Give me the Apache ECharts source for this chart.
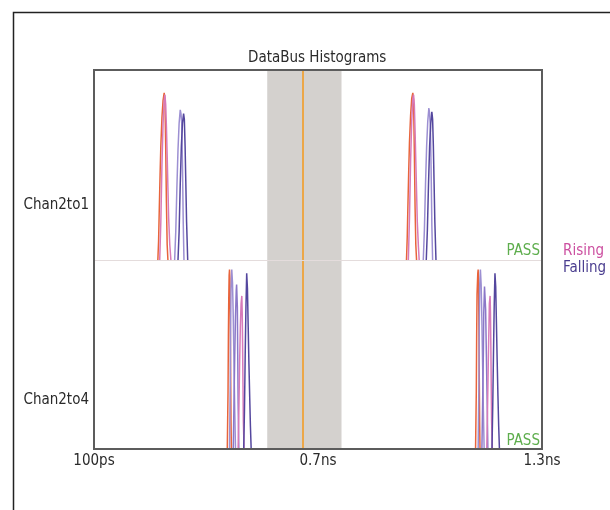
<!DOCTYPE html>
<html>
<head>
<meta charset="utf-8">
<script src="https://cdn.jsdelivr.net/npm/echarts@6/dist/echarts.min.js"></script>
<style>
  html, body { margin: 0; padding: 0; background: #fff; }
  #chart { width: 610px; height: 510px; }
</style>
</head>
<body>
<div id="chart"></div>
<script>
// axis / labels
const xRange = [0.1, 1.3];
const xTicks = [0.1, 0.7, 1.3];
const xTickLabels = ['100ps', '0.7ns', '1.3ns'];
const channels = ['Chan2to1', 'Chan2to4'];
const channelLabelAt = [28.7, 26];
const bandRange = [0.564, 0.763];
const gateLine = 0.664;

// Chan2to1, first group
const top1Orange = [[0.271,0],[0.273,10],[0.275,28],[0.277,45],[0.279,60],[0.282,75],[0.285,84],[0.288,88],[0.290,84],[0.292,60],[0.294,30],[0.296,8],[0.298,0]];
const top1Pink = [[0.276,0],[0.279,20],[0.282,50],[0.285,72],[0.288,84],[0.290,87],[0.292,82],[0.294,70],[0.296,55],[0.298,38],[0.300,22],[0.303,8],[0.306,0]];
const top1Lilac = [[0.316,0],[0.319,15],[0.322,38],[0.325,58],[0.328,72],[0.331,79],[0.333,77],[0.335,72],[0.337,50],[0.339,20],[0.341,0]];
const top1Purple = [[0.325,0],[0.328,15],[0.331,40],[0.334,60],[0.337,72],[0.340,77],[0.342,74],[0.344,60],[0.346,40],[0.348,20],[0.351,0]];
// Chan2to1, second group
const top2Orange = [[0.937,0],[0.939,12],[0.941,30],[0.943,47],[0.945,62],[0.948,76],[0.951,85],[0.954,88],[0.956,84],[0.958,58],[0.960,28],[0.962,8],[0.964,0]];
const top2Pink = [[0.942,0],[0.945,22],[0.948,52],[0.951,73],[0.954,85],[0.956,87],[0.958,82],[0.960,68],[0.962,52],[0.964,36],[0.966,20],[0.969,7],[0.971,0]];
const top2Lilac = [[0.982,0],[0.985,16],[0.988,40],[0.991,60],[0.994,73],[0.997,80],[0.999,77],[1.001,70],[1.003,48],[1.005,18],[1.007,0]];
const top2Purple = [[0.990,0],[0.993,16],[0.996,40],[0.999,60],[1.002,72],[1.005,78],[1.007,74],[1.009,60],[1.011,40],[1.013,20],[1.016,0]];
// Chan2to4, first group
const bot1Orange = [[0.457,0],[0.459,30],[0.460,60],[0.461,80],[0.462,92],[0.463,95],[0.464,90],[0.465,70],[0.466,40],[0.467,15],[0.468,0]];
const bot1Lilac = [[0.463,0],[0.465,35],[0.466,65],[0.467,85],[0.469,95],[0.471,88],[0.473,70],[0.475,45],[0.477,20],[0.479,0]];
const bot1Violet = [[0.473,0],[0.475,25],[0.477,50],[0.479,70],[0.481,84],[0.482,87],[0.484,75],[0.485,50],[0.486,25],[0.488,0]];
const bot1Pink = [[0.486,0],[0.488,20],[0.490,45],[0.492,65],[0.494,77],[0.496,81],[0.497,72],[0.498,55],[0.499,35],[0.500,15],[0.502,0]];
const bot1Purple = [[0.501,0],[0.503,20],[0.505,50],[0.507,75],[0.509,93],[0.511,85],[0.513,65],[0.515,45],[0.517,28],[0.519,12],[0.521,0]];
// Chan2to4, second group
const bot2Orange = [[1.122,0],[1.124,30],[1.125,60],[1.126,82],[1.128,93],[1.129,95],[1.130,88],[1.131,65],[1.132,38],[1.133,14],[1.134,0]];
const bot2Lilac = [[1.129,0],[1.131,35],[1.132,65],[1.133,86],[1.135,95],[1.137,87],[1.139,68],[1.141,44],[1.143,20],[1.145,0]];
const bot2Violet = [[1.139,0],[1.141,25],[1.143,52],[1.144,72],[1.146,86],[1.147,87],[1.149,74],[1.151,50],[1.153,26],[1.155,0]];
const bot2Pink = [[1.152,0],[1.154,20],[1.156,45],[1.158,66],[1.159,77],[1.161,81],[1.162,72],[1.163,54],[1.164,34],[1.165,15],[1.167,0]];
const bot2Purple = [[1.166,0],[1.168,22],[1.170,50],[1.172,76],[1.174,93],[1.176,86],[1.178,66],[1.180,46],[1.182,28],[1.184,12],[1.186,0]];

const colors = {
  orange: '#e8643c',
  pink: '#d77ab9',
  lilac: '#9c8fd2',
  violet: '#8b78c8',
  purple: '#54479e'
};
const FONT = '"DejaVu Sans Condensed", "DejaVu Sans", sans-serif';

const traces = [
  { grid: 0, name: 'a', color: colors.orange, data: top1Orange },
  { grid: 0, name: 'Rising', color: colors.pink, data: top1Pink },
  { grid: 0, name: 'b', color: colors.lilac, data: top1Lilac },
  { grid: 0, name: 'Falling', color: colors.purple, data: top1Purple },
  { grid: 0, name: 'a', color: colors.orange, data: top2Orange },
  { grid: 0, name: 'Rising', color: colors.pink, data: top2Pink },
  { grid: 0, name: 'b', color: colors.lilac, data: top2Lilac },
  { grid: 0, name: 'Falling', color: colors.purple, data: top2Purple },
  { grid: 1, name: 'a', color: colors.orange, data: bot1Orange },
  { grid: 1, name: 'b', color: colors.lilac, data: bot1Lilac },
  { grid: 1, name: 'c', color: colors.violet, data: bot1Violet },
  { grid: 1, name: 'Rising', color: colors.pink, data: bot1Pink },
  { grid: 1, name: 'Falling', color: colors.purple, data: bot1Purple },
  { grid: 1, name: 'a', color: colors.orange, data: bot2Orange },
  { grid: 1, name: 'b', color: colors.lilac, data: bot2Lilac },
  { grid: 1, name: 'c', color: colors.violet, data: bot2Violet },
  { grid: 1, name: 'Rising', color: colors.pink, data: bot2Pink },
  { grid: 1, name: 'Falling', color: colors.purple, data: bot2Purple }
];

const chart = echarts.init(document.getElementById('chart'), null, { renderer: 'canvas' });

const series = traces.map(t => ({
  type: 'line',
  name: t.name,
  xAxisIndex: t.grid,
  yAxisIndex: t.grid,
  data: t.data,
  symbol: 'none',
  lineStyle: { color: t.color, width: 1.5 },
  itemStyle: { color: t.color },
  z: 3
}));

// gate band + centre line, one per grid
[0, 1].forEach(g => {
  series.push({
    type: 'line',
    xAxisIndex: g,
    yAxisIndex: g,
    data: [],
    silent: true,
    z: 1,
    markArea: {
      silent: true,
      itemStyle: { color: '#d4d1ce' },
      data: [[{ xAxis: bandRange[0] }, { xAxis: bandRange[1] }]]
    },
    markLine: {
      silent: true,
      symbol: 'none',
      label: { show: false },
      lineStyle: { color: '#eca748', width: 2, type: 'solid' },
      data: [{ xAxis: gateLine }]
    }
  });
});

const option = {
  animation: false,
  backgroundColor: '#fff',
  title: {
    text: 'DataBus Histograms',
    left: 243,
    top: 46,
    textStyle: { fontFamily: FONT, fontSize: 15, fontWeight: 'normal', color: '#2a2a2a' }
  },
  legend: {
    left: 553,
    top: 239,
    orient: 'vertical',
    itemGap: 2,
    itemWidth: 0,
    icon: 'none',
    selectedMode: false,
    textStyle: { fontFamily: FONT, fontSize: 15, padding: 0 },
    data: [
      { name: 'Rising', textStyle: { color: '#cc4fa0' } },
      { name: 'Falling', textStyle: { color: '#4a3d8f' } }
    ]
  },
  grid: [
    { left: 94, right: 68, top: 70, height: 190 },
    { left: 94, right: 68, top: 260, height: 189 },
    { left: 94, right: 68, top: 70, height: 379, show: true, borderColor: '#5c5c5c', borderWidth: 2, z: 10 }
  ],
  xAxis: [
    {
      gridIndex: 0, type: 'value', min: xRange[0], max: xRange[1], z: 5,
      axisLine: { show: true, lineStyle: { color: '#e4dcdc', width: 1 } },
      axisTick: { show: false }, axisLabel: { show: false }, splitLine: { show: false }
    },
    {
      gridIndex: 1, type: 'value', min: xRange[0], max: xRange[1],
      axisLine: { show: false }, axisTick: { show: false }, splitLine: { show: false },
      axisLabel: {
        margin: 5,
        fontFamily: FONT, fontSize: 15, color: '#2a2a2a',
        customValues: xTicks,
        formatter: v => xTickLabels[xTicks.findIndex(t => Math.abs(t - v) < 1e-6)] || ''
      }
    },
    { gridIndex: 2, type: 'value', show: false }
  ],
  yAxis: [0, 1].map(g => ({
    gridIndex: g, type: 'value', min: 0, max: 100,
    axisLine: { show: false }, axisTick: { show: false }, splitLine: { show: false },
    axisLabel: {
      margin: 5,
      fontFamily: FONT, fontSize: 15, color: '#2a2a2a',
      customValues: [channelLabelAt[g]],
      formatter: () => channels[g]
    }
  })).concat([{ gridIndex: 2, type: 'value', show: false }]),
  graphic: [
    {
      type: 'rect', left: 11, top: 10, silent: true,
      shape: { width: 640, height: 540 },
      style: { fill: 'none', stroke: '#222', lineWidth: 1.5 }
    },
    {
      type: 'text', right: 70, top: 244, silent: true,
      style: { text: 'PASS', fill: '#5fae4e', font: '15px ' + FONT }
    },
    {
      type: 'text', right: 70, top: 434, silent: true,
      style: { text: 'PASS', fill: '#5fae4e', font: '15px ' + FONT }
    }
  ],
  series: series
};

chart.setOption(option);
</script>
</body>
</html>
